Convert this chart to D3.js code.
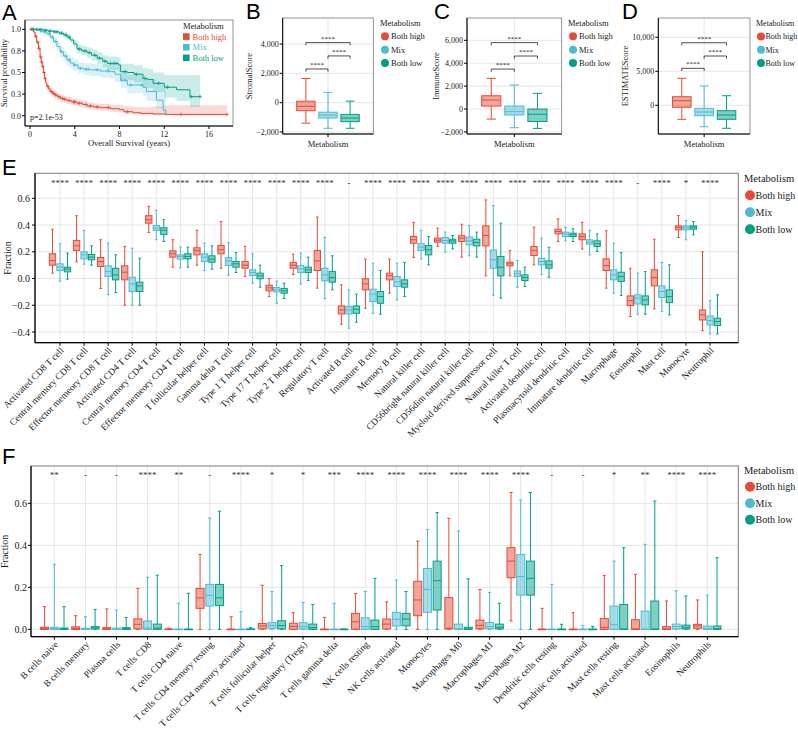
<!DOCTYPE html>
<html><head><meta charset="utf-8">
<script src="https://cdn.jsdelivr.net/npm/d3@7"></script>
<style>
body{margin:0;background:#fff}
svg{display:block}
text{font-family:"Liberation Serif","Times New Roman",serif;fill:#1a1a1a}
</style>
</head><body>
<svg id="chart" width="798" height="730"></svg>
<script>
// ---------------- shared ----------------
const groups = ["Both high", "Mix", "Both low"];
const groupColors = ["#E64B35", "#4DBBD5", "#00A087"];
const legendTitle = "Metabolism";

// ---------------- Panel A: Kaplan-Meier ----------------
const kmHighTime  = [0,0.3,0.45,0.6,0.75,0.9,1.0,1.1,1.2,1.3,1.4,1.5,1.65,1.8,2.0,2.2,2.45,2.7,3.0,3.3,3.7,4.2,4.7,5.1,5.7,6.3,7.2,8.0,8.4,9.2,9.9,11.0,12.2,17.6];
const kmHighSurv  = [1.0,0.97,0.92,0.85,0.78,0.68,0.62,0.57,0.5,0.43,0.38,0.34,0.31,0.28,0.26,0.24,0.22,0.2,0.19,0.175,0.16,0.145,0.13,0.112,0.1,0.093,0.081,0.07,0.046,0.035,0.027,0.02,0.015,0.015];
const kmHighLower = [1.0,0.95,0.89,0.82,0.74,0.64,0.58,0.53,0.46,0.39,0.34,0.30,0.27,0.24,0.22,0.20,0.18,0.16,0.15,0.135,0.12,0.105,0.09,0.075,0.065,0.058,0.047,0.037,0.02,0.013,0.008,0.004,0.002,0.002];
const kmHighUpper = [1.0,0.99,0.95,0.88,0.82,0.72,0.66,0.61,0.54,0.47,0.42,0.38,0.35,0.32,0.30,0.28,0.26,0.24,0.23,0.215,0.2,0.185,0.17,0.155,0.14,0.135,0.125,0.12,0.11,0.1,0.1,0.11,0.12,0.12];
const kmHighCensor = [0.1,0.2,0.5,0.7,0.8,0.95,1.05,1.15,1.25,1.35,1.6,1.9,2.1,2.3,2.6,2.9,3.1,3.5,3.9,4.0,4.4,5.0,5.4,6.0,7.0,8.7,13.5,17.6];

const kmMixTime  = [0,0.5,0.9,1.2,1.5,1.8,2.1,2.4,2.7,3.0,3.3,3.6,3.9,4.3,4.8,5.4,6.3,7.2,7.6,8.1,8.7,10.1,10.4,11.3,11.9,12.15];
const kmMixSurv  = [1.0,0.99,0.98,0.97,0.95,0.91,0.86,0.8,0.74,0.69,0.645,0.61,0.587,0.55,0.537,0.53,0.517,0.51,0.48,0.41,0.355,0.33,0.28,0.18,0.065,0.0];
const kmMixLower = [1.0,0.98,0.96,0.94,0.92,0.87,0.81,0.75,0.68,0.63,0.58,0.55,0.52,0.49,0.47,0.46,0.44,0.43,0.39,0.32,0.26,0.23,0.17,0.08,0.01,0];
const kmMixUpper = [1.0,1.0,1.0,0.99,0.98,0.95,0.91,0.86,0.8,0.75,0.71,0.68,0.655,0.62,0.61,0.6,0.595,0.595,0.57,0.51,0.47,0.46,0.42,0.38,0.32,0.3];
const kmMixCensor = [1.0,1.3,1.7,2.0,2.3,2.8,3.2,3.5,4.0,4.5,5.0,5.2,6.0,7.0,8.2,8.5,9.0,10.0];

const kmLowTime  = [0,1.2,1.6,2.1,2.6,3.0,3.3,3.6,3.9,4.2,4.6,5.1,5.5,6.0,6.5,6.9,7.9,8.1,8.7,9.3,10.1,10.5,11.0,12.0,13.1,14.3,15.2];
const kmLowSurv  = [1.0,0.99,0.98,0.97,0.955,0.935,0.91,0.876,0.83,0.772,0.75,0.73,0.7,0.665,0.63,0.605,0.587,0.51,0.5,0.48,0.43,0.42,0.375,0.33,0.3,0.22,0.22];
const kmLowLower = [1.0,0.98,0.965,0.955,0.935,0.91,0.88,0.84,0.79,0.72,0.7,0.67,0.64,0.6,0.56,0.53,0.51,0.42,0.41,0.385,0.33,0.32,0.27,0.21,0.17,0.1,0.1];
const kmLowUpper = [1.0,1.0,0.995,0.99,0.98,0.965,0.945,0.915,0.875,0.825,0.81,0.79,0.765,0.735,0.7,0.685,0.67,0.6,0.6,0.585,0.55,0.54,0.5,0.47,0.47,0.47,0.47];
const kmLowCensor = [0.3,0.6,0.9,1.4,1.8,2.2,2.4,2.8,3.2,3.5,4.4,4.9,5.3,5.8,6.2,6.7,7.2,7.5,7.7,8.5,9.5,10.3,11.5,12.3,14.4,15.2];

const timeTicks = [0, 4, 8, 12, 16];
const survTicks = [0, 0.25, 0.5, 0.75, 1];
const survTickLabels = ["0.0", "0.3", "0.5", "0.8", "1.0"];
const pValueLabel = "p=2.1e-53";

// ---------------- Panels B-D: scores [min, q1, median, q3, max] ----------------
const stromalStats  = [[-1400,-550,-250,100,1650],[-1750,-1050,-850,-650,700],[-1750,-1300,-1050,-800,100]];
const stromalTicks  = [-2000, 0, 2000, 4000];
const stromalBrackets = [2300, 3190, 4100];
const immuneStats   = [[-880,260,790,1160,2680],[-1630,-520,-230,260,2100],[-1690,-1090,-460,0,1370]];
const immuneTicks   = [-2000, 0, 2000, 4000, 6000];
const immuneBrackets = [3490, 4630, 5800];
const estimateStats = [[-2060,-290,680,1260,3970],[-3150,-1530,-985,-440,2840],[-3380,-2060,-1430,-790,1410]];
const estimateTicks = [0, 5000, 10000];
const estimateBrackets = [5440, 7250, 9200];
const bracketPairs  = [[0,1],[1,2],[0,2]];
const bracketLabels = ["****","****","****"];

// ---------------- Panel E: ssGSEA ----------------
const eCategories = ["Activated CD8 T cell","Central memory CD8 T cell","Effector memeory CD8 T cell","Activated CD4 T cell","Central memory CD4 T cell","Effector memeory CD4 T cell","T follicular helper cell","Gamma delta T cell","Type 1 T helper cell","Type 17 T helper cell","Type 2 T helper cell","Regulatory T cell","Activated B cell","Immature B cell","Memory B cell","Natural killer cell","CD56bright natural killer cell","CD56dim natural killer cell","Myeloid derived suppressor cell","Natural killer T cell","Activated dendritic cell","Plasmacytoid dendritic cell","Immature dendritic cell","Macrophage","Eosinophil","Mast cell","Monocyte","Neutrophil"];
const eSignif = ["****","****","****","****","****","****","****","****","****","****","****","****","-","****","****","****","****","****","****","****","****","****","****","****","-","****","*","****"];
const eHigh = [[0.04,0.10,0.135,0.185,0.369],[0.125,0.21,0.245,0.285,0.47],[-0.075,0.09,0.127,0.157,0.29],[-0.2,-0.01,0.047,0.095,0.24],[0.345,0.414,0.44,0.47,0.54],[0.085,0.16,0.185,0.207,0.29],[0.1,0.177,0.21,0.23,0.36],[0.077,0.185,0.215,0.247,0.426],[0.015,0.077,0.1,0.127,0.24],[-0.135,-0.092,-0.07,-0.05,0.0],[0.03,0.077,0.1,0.12,0.182],[-0.072,0.06,0.132,0.21,0.46],[-0.342,-0.265,-0.235,-0.205,-0.047],[-0.222,-0.085,-0.04,-0.002,0.145],[-0.11,-0.01,0.022,0.04,0.145],[0.157,0.264,0.29,0.314,0.42],[0.24,0.272,0.287,0.302,0.377],[0.16,0.277,0.302,0.32,0.406],[0.02,0.244,0.322,0.394,0.588],[0.02,0.095,0.11,0.122,0.21],[0.102,0.172,0.21,0.24,0.384],[0.277,0.334,0.352,0.369,0.446],[0.22,0.29,0.314,0.334,0.42],[-0.072,0.06,0.097,0.147,0.357],[-0.284,-0.202,-0.165,-0.13,0.077],[-0.227,-0.055,0.007,0.065,0.294],[0.307,0.364,0.382,0.394,0.471],[-0.39,-0.31,-0.272,-0.235,0.2]];
const eMix = [[-0.02,0.06,0.085,0.11,0.26],[0.107,0.147,0.177,0.2,0.36],[-0.12,0.015,0.052,0.095,0.265],[-0.2,-0.097,-0.04,0.01,0.227],[0.29,0.36,0.377,0.397,0.51],[0.08,0.145,0.165,0.177,0.235],[0.06,0.127,0.16,0.185,0.265],[0.025,0.097,0.132,0.157,0.27],[-0.035,0.022,0.045,0.065,0.185],[-0.185,-0.1,-0.085,-0.067,-0.02],[-0.04,0.045,0.072,0.097,0.19],[-0.15,-0.017,0.027,0.077,0.307],[-0.372,-0.265,-0.235,-0.21,-0.085],[-0.26,-0.172,-0.117,-0.08,0.115],[-0.16,-0.06,-0.025,0.015,0.115],[0.147,0.21,0.235,0.26,0.36],[0.197,0.264,0.284,0.307,0.347],[0.17,0.252,0.282,0.31,0.397],[-0.125,0.077,0.14,0.214,0.546],[-0.065,0.015,0.035,0.057,0.135],[0.032,0.102,0.127,0.152,0.302],[0.282,0.314,0.332,0.347,0.384],[0.177,0.257,0.272,0.29,0.36],[-0.11,-0.01,0.027,0.065,0.264],[-0.267,-0.19,-0.147,-0.122,0.04],[-0.247,-0.142,-0.097,-0.055,0.12],[0.29,0.364,0.38,0.394,0.434],[-0.414,-0.347,-0.314,-0.28,-0.165]];
const eLow = [[-0.005,0.05,0.07,0.085,0.19],[0.1,0.14,0.16,0.18,0.245],[-0.105,-0.01,0.027,0.077,0.177],[-0.2,-0.097,-0.055,-0.027,0.152],[0.277,0.33,0.36,0.38,0.44],[0.085,0.147,0.165,0.185,0.235],[0.07,0.122,0.145,0.17,0.245],[0.045,0.085,0.11,0.127,0.195],[-0.065,-0.002,0.02,0.04,0.1],[-0.15,-0.11,-0.092,-0.075,-0.035],[-0.015,0.045,0.065,0.085,0.16],[-0.085,-0.027,0.007,0.052,0.17],[-0.327,-0.26,-0.23,-0.205,-0.117],[-0.267,-0.185,-0.135,-0.097,0.06],[-0.135,-0.065,-0.04,-0.01,0.12],[0.102,0.177,0.215,0.247,0.314],[0.222,0.264,0.282,0.294,0.322],[0.16,0.244,0.27,0.294,0.347],[-0.147,0.02,0.085,0.165,0.414],[-0.06,-0.015,0.007,0.027,0.085],[0.01,0.077,0.102,0.132,0.234],[0.277,0.314,0.327,0.339,0.372],[0.202,0.24,0.26,0.282,0.334],[-0.127,-0.022,0.015,0.047,0.195],[-0.267,-0.197,-0.16,-0.13,0.052],[-0.272,-0.18,-0.135,-0.085,0.102],[0.327,0.369,0.384,0.394,0.426],[-0.414,-0.352,-0.322,-0.297,-0.122]];
const eTicks = [-0.4, -0.2, 0, 0.2, 0.4, 0.6];

// ---------------- Panel F: CIBERSORT ----------------
const fCategories = ["B cells naive","B cells memory","Plasma cells","T cells CD8","T cells CD4 naive","T cells CD4 memory resting","T cells CD4 memory activated","T cells follicular helper","T cells regulatory (Tregs)","T cells gamma delta","NK cells resting","NK cells activated","Monocytes","Macrophages M0","Macrophages M1","Macrophages M2","Dendritic cells resting","Dendritic cells activated","Mast cells resting","Mast cells activated","Eosinophils","Neutrophils"];
const fSignif = ["**","-","-","****","**","-","****","*","*","***","****","****","****","****","****","****","-","-","*","**","****","****"];
const fHigh = [[0,0,0.003,0.01,0.108],[0,0,0.004,0.012,0.065],[0,0,0.003,0.008,0.097],[0,0.003,0.024,0.05,0.195],[0,0,0,0.002,0.006],[0,0.1,0.15,0.195,0.357],[0,0,0,0.001,0.06],[0,0.002,0.016,0.028,0.21],[0,0,0.014,0.029,0.079],[0,0,0,0.001,0.057],[0,0,0.036,0.076,0.171],[0,0.002,0.025,0.049,0.131],[0,0.065,0.14,0.229,0.42],[0,0.002,0.005,0.151,0.529],[0,0.003,0.019,0.044,0.19],[0.04,0.246,0.325,0.389,0.652],[0,0,0,0.001,0.1],[0,0,0,0.001,0.079],[0,0,0.01,0.052,0.257],[0,0,0.002,0.046,0.262],[0,0,0.002,0.013,0.135],[0,0.005,0.016,0.024,0.14]];
const fMix = [[0,0,0.003,0.01,0.31],[0,0,0.001,0.005,0.06],[0,0,0.002,0.006,0.092],[0,0,0.006,0.04,0.248],[0,0,0,0.001,0.124],[0,0.111,0.162,0.214,0.53],[0,0,0,0.001,0.084],[0,0.005,0.018,0.033,0.18],[0,0.002,0.013,0.032,0.128],[0,0,0,0.001,0.124],[0,0,0.013,0.055,0.18],[0,0.016,0.048,0.081,0.235],[0,0.081,0.19,0.29,0.476],[0,0,0.003,0.025,0.468],[0,0.003,0.013,0.033,0.176],[0,0.163,0.251,0.357,0.616],[0,0,0,0.001,0.214],[0,0,0,0.001,0.019],[0,0,0.022,0.111,0.325],[0,0,0.001,0.087,0.405],[0,0.002,0.013,0.025,0.183],[0,0,0.003,0.016,0.163]];
const fLow = [[0,0,0.002,0.006,0.108],[0,0.002,0.007,0.013,0.095],[0,0,0.003,0.008,0.057],[0,0,0.006,0.025,0.258],[0,0,0,0.001,0.172],[0,0.113,0.15,0.214,0.563],[0,0,0,0.002,0.008],[0,0.002,0.018,0.041,0.303],[0,0,0.008,0.025,0.119],[0,0,0,0.001,0.002],[0,0,0.013,0.044,0.243],[0,0.017,0.049,0.076,0.18],[0,0.092,0.232,0.325,0.556],[0,0,0.003,0.01,0.241],[0,0.002,0.01,0.025,0.124],[0,0.163,0.243,0.325,0.652],[0,0,0,0.001,0.024],[0,0,0,0.001,0.014],[0,0,0.001,0.119,0.389],[0,0,0.001,0.135,0.611],[0,0.002,0.01,0.02,0.159],[0,0,0.003,0.016,0.341]];
const fTicks = [0, 0.2, 0.4, 0.6];

// ======================================================================
const svg = d3.select("#chart");
const GRID = "#e6e6e6", BORDER = "#7a7a7a";

function panelLetter(txt, x, y) {
  svg.append("text").attr("x", x).attr("y", y).text(txt)
    .style("font-family", '"Liberation Sans",Arial,sans-serif').style("font-size", "22px").style("fill", "#000");
}

function drawBox(g, cx, s, y, bw, cw, color) {
  const [mn, q1, md, q3, mx] = s;
  const bg = g.append("g").attr("stroke", color).attr("stroke-width", 1);
  bg.append("line").attr("x1", cx).attr("x2", cx).attr("y1", y(mx)).attr("y2", y(q3));
  bg.append("line").attr("x1", cx).attr("x2", cx).attr("y1", y(q1)).attr("y2", y(mn));
  bg.append("line").attr("x1", cx - cw/2).attr("x2", cx + cw/2).attr("y1", y(mx)).attr("y2", y(mx));
  bg.append("line").attr("x1", cx - cw/2).attr("x2", cx + cw/2).attr("y1", y(mn)).attr("y2", y(mn));
  bg.append("rect").attr("x", cx - bw/2).attr("width", bw)
    .attr("y", y(q3)).attr("height", Math.max(0.6, y(q1) - y(q3)))
    .attr("fill", color).attr("fill-opacity", 0.5);
  bg.append("line").attr("x1", cx - bw/2).attr("x2", cx + bw/2).attr("y1", y(md)).attr("y2", y(md));
}

function legend(x, y, gap, r, titleSize, itemSize, shape, colorText, textGap) {
  const g = svg.append("g");
  g.append("text").attr("x", x).attr("y", y).text(legendTitle).style("font-size", titleSize + "px");
  groups.forEach((name, i) => {
    const cy = y + gap * (i + 1) - titleSize * 0.35;
    if (shape === "circle") {
      g.append("circle").attr("cx", x + r + 1).attr("cy", cy).attr("r", r).attr("fill", groupColors[i]);
    } else {
      g.append("rect").attr("x", x).attr("y", cy - r).attr("width", 2*r).attr("height", 2*r).attr("fill", groupColors[i]);
    }
    g.append("text").attr("x", x + 2*r + textGap).attr("y", cy).attr("dy", "0.35em").text(name)
      .style("font-size", itemSize + "px").style("fill", colorText ? groupColors[i] : "#1a1a1a");
  });
}

// ---------------- Panel A ----------------
(function () {
  const x0 = 25, x1 = 233, y0 = 20, y1 = 126;
  const x = d3.scaleLinear().domain([0, 16]).range([30, 209]);
  const y = d3.scaleLinear().domain([0, 1]).range([115.7, 29.3]);
  const g = svg.append("g");
  g.append("rect").attr("x", x0).attr("y", y0).attr("width", x1 - x0).attr("height", y1 - y0)
    .attr("fill", "none").attr("stroke", BORDER).attr("stroke-width", 0.8);

  const sets = [
    [kmHighTime, kmHighSurv, kmHighLower, kmHighUpper, kmHighCensor],
    [kmMixTime, kmMixSurv, kmMixLower, kmMixUpper, kmMixCensor],
    [kmLowTime, kmLowSurv, kmLowLower, kmLowUpper, kmLowCensor]
  ];
  sets.forEach(([t, s, lo, hi], i) => {
    const pts = t.map((d, k) => ({t: d, s: s[k], lo: lo[k], hi: hi[k]}));
    g.append("path").datum(pts)
      .attr("d", d3.area().curve(d3.curveStepAfter).x(d => x(d.t)).y0(d => y(d.lo)).y1(d => y(d.hi)))
      .attr("fill", groupColors[i]).attr("fill-opacity", 0.2);
  });
  sets.forEach(([t, s, lo, hi, cens], i) => {
    const pts = t.map((d, k) => ({t: d, s: s[k]}));
    g.append("path").datum(pts)
      .attr("d", d3.line().curve(d3.curveStepAfter).x(d => x(d.t)).y(d => y(d.s)))
      .attr("fill", "none").attr("stroke", groupColors[i]).attr("stroke-width", 1);
    const survAt = tt => { let v = s[0]; t.forEach((d, k) => { if (d <= tt) v = s[k]; }); return v; };
    cens.forEach(c => {
      const cx = x(c), cy = y(survAt(c));
      g.append("path").attr("d", `M${cx-1.8},${cy}H${cx+1.8}M${cx},${cy-1.8}V${cy+1.8}`)
        .attr("stroke", groupColors[i]).attr("stroke-width", 0.8);
    });
  });
  // axes
  g.append("line").attr("x1", x0).attr("x2", x0).attr("y1", y0).attr("y2", y1).attr("stroke", "#000").attr("stroke-width", 1);
  g.append("line").attr("x1", x0).attr("x2", x1).attr("y1", y1).attr("y2", y1).attr("stroke", "#000").attr("stroke-width", 1);
  survTicks.forEach((v, i) => {
    g.append("line").attr("x1", x0 - 3).attr("x2", x0).attr("y1", y(v)).attr("y2", y(v)).attr("stroke", "#000");
    g.append("text").attr("x", x0 - 4).attr("y", y(v)).attr("dy", "0.35em").attr("text-anchor", "end")
      .text(survTickLabels[i]).style("font-size", "8px");
  });
  timeTicks.forEach(v => {
    g.append("line").attr("x1", x(v)).attr("x2", x(v)).attr("y1", y1).attr("y2", y1 + 3).attr("stroke", "#000");
    g.append("text").attr("x", x(v)).attr("y", y1 + 11).attr("text-anchor", "middle").text(v).style("font-size", "8px");
  });
  g.append("text").attr("x", (x0 + x1) / 2).attr("y", 146).attr("text-anchor", "middle")
    .text("Overall Survival (years)").style("font-size", "8.5px");
  g.append("text").attr("transform", `translate(7,${(y0 + y1) / 2}) rotate(-90)`).attr("text-anchor", "middle")
    .text("Survival probability").style("font-size", "8.5px");
  g.append("text").attr("x", 30).attr("y", 120).text(pValueLabel).style("font-size", "8px");
  legend(183, 29, 10.6, 3.3, 8.5, 8.5, "square", true, 3);
  panelLetter("A", 2, 20);
})();

// ---------------- Panels B, C, D ----------------
function scorePanel(cfg) {
  const {x0, x1, y0, y1, domain, ticks, stats, brackets, title, titleX} = cfg;
  const y = d3.scaleLinear().domain(domain).range([y1, y0]);
  const x = d3.scalePoint().domain(groups).range([x0, x1]).padding(1.05);
  const g = svg.append("g");
  const cx = (x0 + x1) / 2;
  ticks.forEach(v => g.append("line").attr("x1", x0).attr("x2", x1).attr("y1", y(v)).attr("y2", y(v)).attr("stroke", GRID));
  g.append("line").attr("x1", x(groups[1])).attr("x2", x(groups[1])).attr("y1", y0).attr("y2", y1).attr("stroke", GRID);
  const step = x.step();
  stats.forEach((s, i) => drawBox(g, x(groups[i]), s, y, step * 0.83, step * 0.4, groupColors[i]));
  // brackets
  bracketPairs.forEach(([a, b], k) => {
    const yy = y(brackets[k]), xa = x(groups[a]), xb = x(groups[b]);
    g.append("path").attr("d", `M${xa},${yy + 2.7}V${yy}H${xb}V${yy + 2.7}`)
      .attr("fill", "none").attr("stroke", "#222").attr("stroke-width", 0.8);
    g.append("text").attr("x", (xa + xb) / 2).attr("y", yy - 2).attr("text-anchor", "middle")
      .text(bracketLabels[k]).style("font-size", "7px");
  });
  g.append("rect").attr("x", x0).attr("y", y0).attr("width", x1 - x0).attr("height", y1 - y0)
    .attr("fill", "none").attr("stroke", BORDER).attr("stroke-width", 0.8);
  g.append("line").attr("x1", x0).attr("x2", x0).attr("y1", y0).attr("y2", y1).attr("stroke", "#000");
  g.append("line").attr("x1", x0).attr("x2", x1).attr("y1", y1).attr("y2", y1).attr("stroke", "#000");
  const fmt = d3.format(",");
  ticks.forEach(v => {
    g.append("line").attr("x1", x0 - 3).attr("x2", x0).attr("y1", y(v)).attr("y2", y(v)).attr("stroke", "#000");
    g.append("text").attr("x", x0 - 4).attr("y", y(v)).attr("dy", "0.35em").attr("text-anchor", "end")
      .text(fmt(v)).style("font-size", "8px");
  });
  g.append("line").attr("x1", cx).attr("x2", cx).attr("y1", y1).attr("y2", y1 + 3).attr("stroke", "#000");
  g.append("text").attr("x", cx).attr("y", y1 + 13).attr("text-anchor", "middle").text(legendTitle).style("font-size", "8.5px");
  g.append("text").attr("transform", `translate(${titleX},${(y0 + y1) / 2}) rotate(-90)`).attr("text-anchor", "middle")
    .text(title).style("font-size", "8.5px");
}
scorePanel({x0: 282.7, x1: 373.3, y0: 18, y1: 134, domain: [-2140, 5780], ticks: stromalTicks, stats: stromalStats, brackets: stromalBrackets, title: "StromalScore", titleX: 252});
scorePanel({x0: 467, x1: 561.7, y0: 18, y1: 134, domain: [-2180, 7950], ticks: immuneTicks, stats: immuneStats, brackets: immuneBrackets, title: "ImmuneScore", titleX: 439});
scorePanel({x0: 658.3, x1: 750, y0: 18, y1: 134, domain: [-4220, 12840], ticks: estimateTicks, stats: estimateStats, brackets: estimateBrackets, title: "ESTIMATEScore", titleX: 628});
legend(380, 26, 13.3, 4, 8.5, 8.5, "circle", false, 3);
legend(568, 26, 13.3, 4, 8.5, 8.5, "circle", false, 3);
legend(756, 26, 13.3, 4, 8, 8, "circle", false, 1.5);
panelLetter("B", 246, 18.5);
panelLetter("C", 434, 18.5);
panelLetter("D", 622, 18.5);

// ---------------- Panels E, F ----------------
function immunePanel(cfg) {
  const {cats, sets, signif, x0, x1, y0, y1, catRange, domain, ticks, off, bw, cw, sigY, tickRight, titleX} = cfg;
  const y = d3.scaleLinear().domain(domain).range([y1, y0]);
  const x = d3.scalePoint().domain(cats).range(catRange);
  const g = svg.append("g");
  ticks.forEach(v => g.append("line").attr("x1", x0).attr("x2", x1).attr("y1", y(v)).attr("y2", y(v)).attr("stroke", GRID));
  cats.forEach(c => g.append("line").attr("x1", x(c)).attr("x2", x(c)).attr("y1", y0).attr("y2", y1).attr("stroke", GRID));
  sets.forEach((set, gi) => {
    set.forEach((s, ci) => drawBox(g, x(cats[ci]) + (gi - 1) * off, s, y, bw, cw, groupColors[gi]));
  });
  signif.forEach((s, ci) => {
    g.append("text").attr("x", x(cats[ci])).attr("y", sigY).attr("text-anchor", "middle")
      .text(s).style("font-size", "9px").style("fill", "#333");
  });
  g.append("rect").attr("x", x0).attr("y", y0).attr("width", x1 - x0).attr("height", y1 - y0)
    .attr("fill", "none").attr("stroke", BORDER).attr("stroke-width", 1);
  g.append("line").attr("x1", x0).attr("x2", x0).attr("y1", y0).attr("y2", y1).attr("stroke", "#000").attr("stroke-width", 1.2);
  g.append("line").attr("x1", x0).attr("x2", x1).attr("y1", y1).attr("y2", y1).attr("stroke", "#000").attr("stroke-width", 1.2);
  const fmt = d3.format(".1f");
  ticks.forEach(v => {
    g.append("line").attr("x1", x0 - 3).attr("x2", x0).attr("y1", y(v)).attr("y2", y(v)).attr("stroke", "#000");
    g.append("text").attr("x", tickRight).attr("y", y(v)).attr("dy", "0.35em").attr("text-anchor", "end")
      .text(fmt(v)).style("font-size", "10px");
  });
  cats.forEach(c => {
    g.append("line").attr("x1", x(c)).attr("x2", x(c)).attr("y1", y1).attr("y2", y1 + 3).attr("stroke", "#000");
    g.append("text").attr("transform", `translate(${x(c) + 2},${y1 + 6}) rotate(-45)`)
      .attr("text-anchor", "end").attr("dy", "0.35em").text(c).style("font-size", "9.5px");
  });
  g.append("text").attr("transform", `translate(${titleX},${(y0 + y1) / 2}) rotate(-90)`).attr("text-anchor", "middle")
    .text("Fraction").style("font-size", "10px");
}
immunePanel({cats: eCategories, sets: [eHigh, eMix, eLow], signif: eSignif, x0: 35, x1: 738.3, y0: 173.3, y1: 342.7,
  catRange: [60, 710], domain: [-0.48, 0.787], ticks: eTicks, off: 7.5, bw: 6.3, cw: 2.6, sigY: 186, tickRight: 30, titleX: 11});
immunePanel({cats: fCategories, sets: [fHigh, fMix, fLow], signif: fSignif, x0: 31, x1: 738.3, y0: 466, y1: 636.7,
  catRange: [54.3, 707.3], domain: [-0.035, 0.778], ticks: fTicks, off: 9.7, bw: 8, cw: 3.2, sigY: 477.5, tickRight: 27, titleX: 8});
legend(744, 182, 17, 5, 10.5, 10, "circle", false, 1.5);
legend(744, 474, 16.5, 5, 10.5, 10, "circle", false, 1.5);
panelLetter("E", 2, 175);
panelLetter("F", 2, 464);
</script>
</body></html>
